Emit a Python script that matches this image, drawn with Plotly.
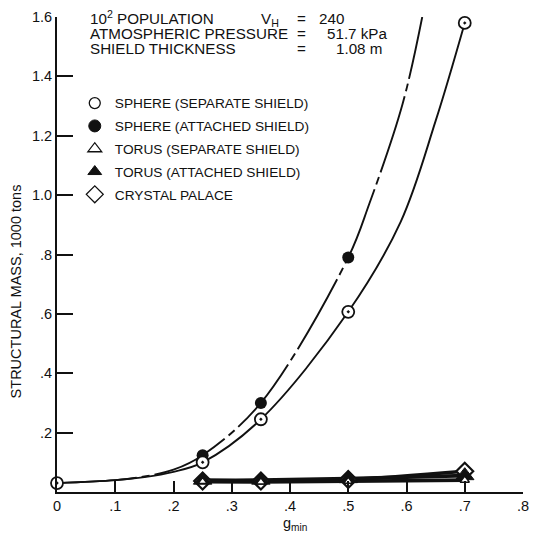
import plotly.graph_objects as go

# ---- data ----
g_sphere_pts = [0.0, 0.25, 0.35, 0.5, 0.7]
sphere_sep_pts = [0.03, 0.10, 0.245, 0.607, 1.58]
g_sphere_att_pts = [0.25, 0.35, 0.5]
sphere_att_pts = [0.124, 0.30, 0.79]

# smooth curve paths
g_sep_curve = [0.0, 0.1, 0.15, 0.2, 0.25, 0.35, 0.5, 0.59, 0.65, 0.7]
sep_curve = [0.03, 0.04, 0.05, 0.068, 0.10, 0.245, 0.607, 0.91, 1.25, 1.58]
g_att_curve = [0.0, 0.1, 0.15, 0.2, 0.25, 0.35, 0.5, 0.536, 0.593, 0.627]
att_curve = [0.03, 0.04, 0.052, 0.075, 0.124, 0.30, 0.79, 0.97, 1.305, 1.60]

g_low = [0.25, 0.35, 0.5, 0.7]
torus_sep = [0.035, 0.034, 0.036, 0.040]
torus_att = [0.040, 0.040, 0.045, 0.055]
crystal = [0.037, 0.037, 0.042, 0.070]

x_tickvals = [0, 0.1, 0.2, 0.3, 0.4, 0.5, 0.6, 0.7, 0.8]
x_ticktext = ["0", ".1", ".2", ".3", ".4", ".5", ".6", ".7", ".8"]
y_tickvals = [0.2, 0.4, 0.6, 0.8, 1.0, 1.2, 1.4, 1.6]
y_ticktext = [".2", ".4", ".6", ".8", "1.0", "1.2", "1.4", "1.6"]

legend_names = ["SPHERE (SEPARATE SHIELD)", "SPHERE (ATTACHED SHIELD)",
                "TORUS (SEPARATE SHIELD)", "TORUS (ATTACHED SHIELD)", "CRYSTAL PALACE"]

FONT = "Liberation Sans, Arial, Helvetica, sans-serif"
INK = "#111111"

fig = go.Figure()

# curves
fig.add_trace(go.Scatter(x=g_sep_curve, y=sep_curve, mode="lines",
                         line=dict(color=INK, width=1.9, shape="spline", smoothing=1.0),
                         showlegend=False, hoverinfo="skip"))
fig.add_trace(go.Scatter(x=g_att_curve, y=att_curve, mode="lines",
                         line=dict(color=INK, width=1.9, shape="spline", smoothing=1.0,
                                   dash="80px,5px,8px,5px"),
                         showlegend=False, hoverinfo="skip"))
for yy in (crystal, torus_att, torus_sep):
    fig.add_trace(go.Scatter(x=g_low, y=yy, mode="lines",
                             line=dict(color=INK, width=3.6, shape="spline"),
                             showlegend=False, hoverinfo="skip"))

# markers in plot
fig.add_trace(go.Scatter(x=g_low, y=crystal, mode="markers", cliponaxis=False,
                         marker=dict(symbol="diamond", size=13, color="white",
                                     line=dict(color=INK, width=2.2)),
                         showlegend=False))
fig.add_trace(go.Scatter(x=g_low, y=torus_att, mode="markers", cliponaxis=False,
                         marker=dict(symbol="triangle-up", size=16, color=INK,
                                     line=dict(color=INK, width=1)),
                         showlegend=False))
fig.add_trace(go.Scatter(x=g_low, y=torus_sep, mode="markers", cliponaxis=False,
                         marker=dict(symbol="triangle-up", size=8, color="white",
                                     line=dict(color=INK, width=1.5)),
                         showlegend=False))
fig.add_trace(go.Scatter(x=g_sphere_att_pts, y=sphere_att_pts, mode="markers", cliponaxis=False,
                         marker=dict(symbol="circle", size=12, color=INK),
                         showlegend=False))
fig.add_trace(go.Scatter(x=g_sphere_pts, y=sphere_sep_pts, mode="markers", cliponaxis=False,
                         marker=dict(symbol="circle-dot", size=12, color="white",
                                     line=dict(color=INK, width=1.8)),
                         showlegend=False))

# legend-only traces
leg_markers = [
    dict(symbol="circle", size=11, color="white", line=dict(color=INK, width=1.3)),
    dict(symbol="circle", size=12, color=INK, line=dict(color=INK, width=1)),
    dict(symbol="triangle-up", size=12, color="white", line=dict(color=INK, width=1.3)),
    dict(symbol="triangle-up", size=12, color=INK, line=dict(color=INK, width=1)),
    dict(symbol="diamond", size=13, color="white", line=dict(color=INK, width=1.3)),
]
for i, (nm, mk) in enumerate(zip(legend_names, leg_markers)):
    fig.add_trace(go.Scatter(x=[None], y=[None], mode="markers", name=nm,
                             marker=mk, legendgroup=f"g{i}", showlegend=True))

# header annotations
HSIZE = 15.2


def ann(text, px, py, anchor="left"):
    fig.add_annotation(text=text, x=(px - 57) / 472, y=(492 - py) / 477,
                       xref="paper", yref="paper", xanchor=anchor, yanchor="middle",
                       showarrow=False, font=dict(family=FONT, size=HSIZE, color=INK))


ann("10<sup>2</sup> POPULATION", 88, 16)
ann("ATMOSPHERIC PRESSURE", 88, 32)
ann("SHIELD THICKNESS", 88, 47)
ann("V<sub>H</sub>", 262, 18)
ann("=", 305, 17, "center")
ann("=", 305, 32, "center")
ann("=", 305, 47, "center")
ann("240", 320, 17)
ann("51.7 kPa", 328, 32)
ann("1.08 m", 338, 47)

# y-axis title
fig.add_annotation(text="STRUCTURAL MASS, 1000 tons", x=(15 - 57) / 472, y=(492 - 291) / 477,
                   xref="paper", yref="paper", xanchor="center", yanchor="middle",
                   textangle=-90, showarrow=False,
                   font=dict(family=FONT, size=14.5, color=INK))
# x-axis title
fig.add_annotation(text="g<sub>min</sub>", x=(298 - 57) / 472, y=(492 - 524) / 477,
                   xref="paper", yref="paper", xanchor="center", yanchor="middle",
                   showarrow=False, font=dict(family=FONT, size=14.5, color=INK))

fig.update_layout(
    width=538, height=537,
    margin=dict(l=57, r=9, t=15, b=45),
    paper_bgcolor="white", plot_bgcolor="white",
    font=dict(family=FONT, size=13.5, color=INK),
    showlegend=True,
    legend=dict(x=(75 - 57) / 472, y=(492 - 86) / 477, xanchor="left", yanchor="top",
                bgcolor="rgba(0,0,0,0)", tracegroupgap=2,
                font=dict(family=FONT, size=13.7, color=INK)),
    xaxis=dict(range=[0, 0.8], tickvals=x_tickvals, ticktext=x_ticktext,
               showgrid=False, zeroline=False, showline=True, linecolor=INK, linewidth=2,
               ticks="inside", ticklen=11, tickwidth=1.5, tickcolor=INK,
               tickfont=dict(family=FONT, size=14.5, color=INK)),
    yaxis=dict(range=[0, 1.6], tickvals=y_tickvals, ticktext=y_ticktext,
               showgrid=False, zeroline=False, showline=True, linecolor=INK, linewidth=2,
               ticks="inside", ticklen=16, tickwidth=1.5, tickcolor=INK,
               tickfont=dict(family=FONT, size=14.5, color=INK)),
)

fig.write_html("out.html")
